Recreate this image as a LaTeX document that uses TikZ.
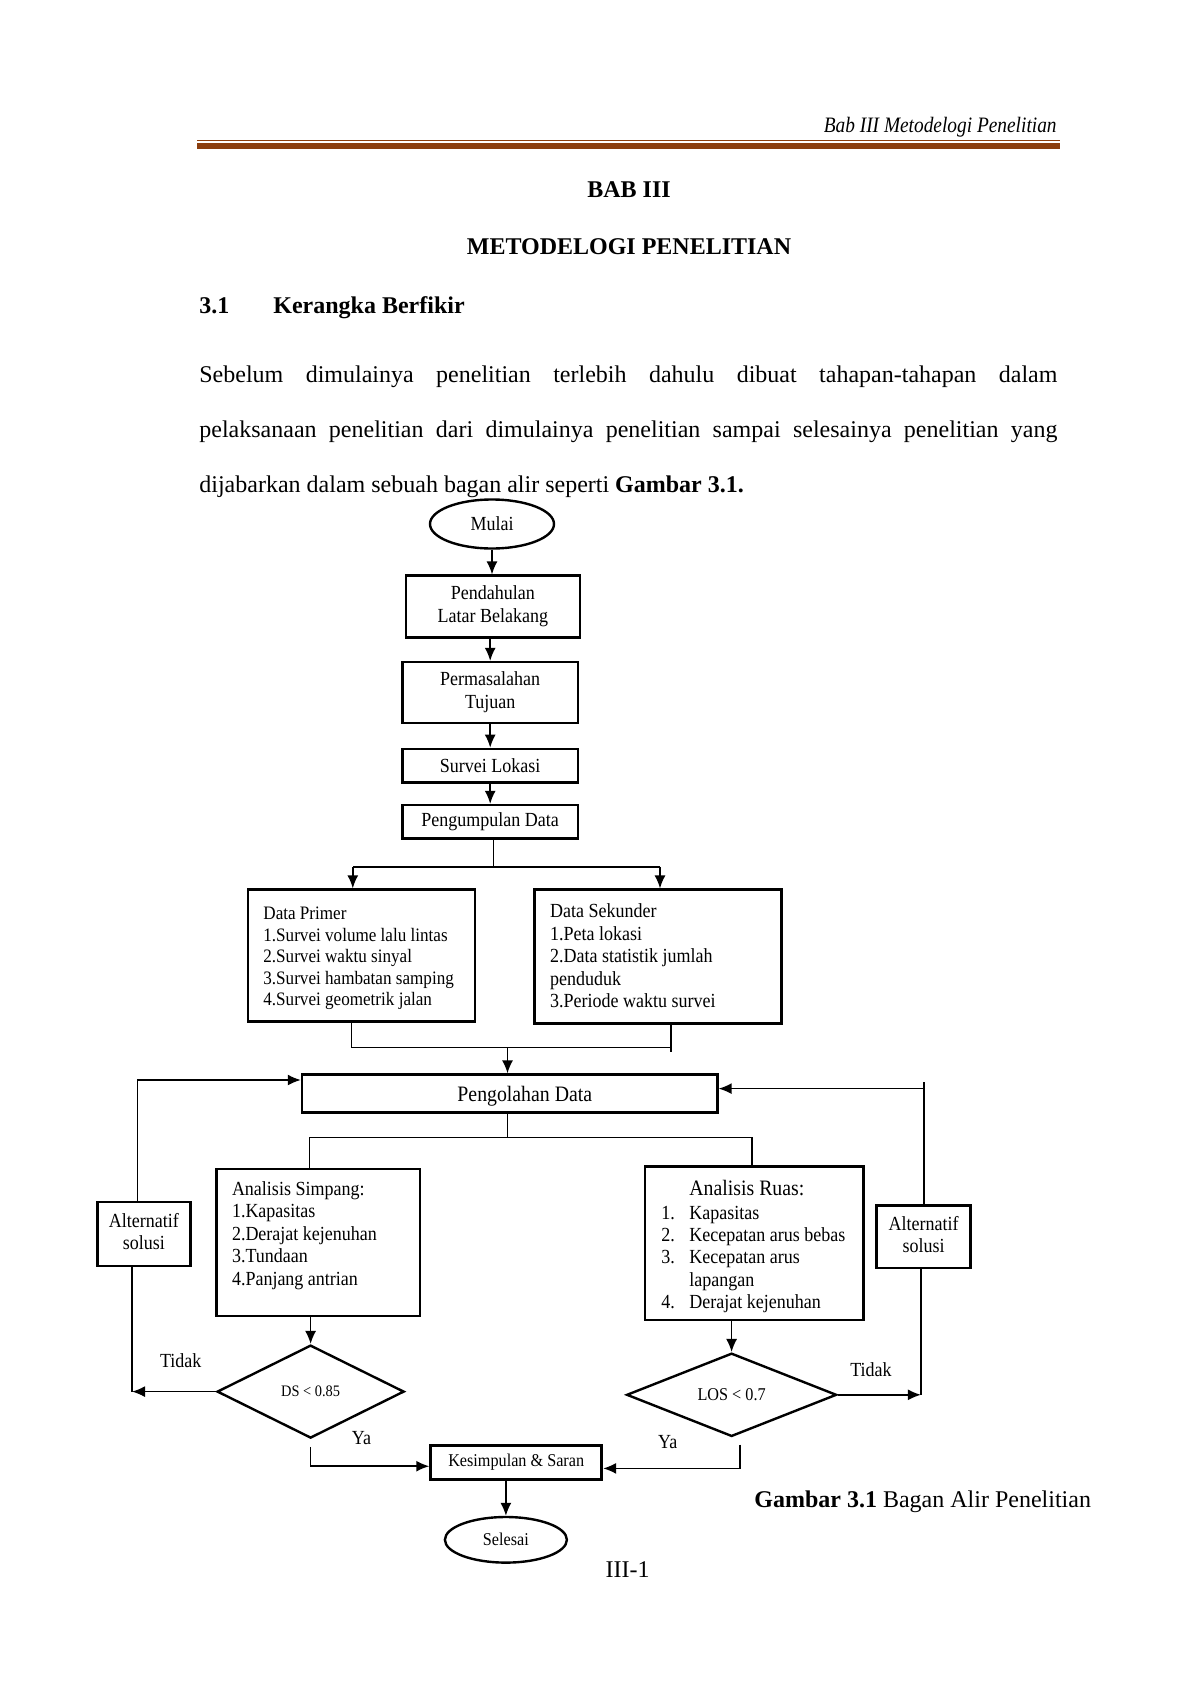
\documentclass[tikz,border=0pt]{standalone}
\usepackage{fontspec}
\setmainfont{Liberation Serif}
\newfontfamily\fc{Liberation Serif}[FakeStretch=0.9]
\newfontfamily\fhead{Liberation Serif}[FakeStretch=0.88]
\usetikzlibrary{shapes.geometric,arrows.meta}
\definecolor{rulebrown}{RGB}{139,62,14}
\newcommand{\twoline}[2]{\raisebox{-1.2pt}{\begin{tabular}{@{}c@{}}#1\\#2\end{tabular}}}
\begin{document}
\begin{tikzpicture}[x=0.5pt,y=-0.5pt,
 box/.style={draw, line width=1.2pt, inner sep=0pt, font=\fc\fontsize{10}{11.35}\selectfont, align=center},
 term/.style={draw, ellipse, line width=1.2pt, inner sep=0pt, font=\fc\fontsize{10}{12}\selectfont},
 dec/.style={draw, diamond, line width=1.2pt, inner sep=0pt, font=\fc\fontsize{8}{10}\selectfont},
 conn/.style={line width=0.75pt},
 arr/.style={conn, -{Latex[length=6.5pt,width=5.5pt]}},
 txt/.style={inner sep=0pt, align=left, font=\fc\fontsize{10}{11.25}\selectfont},
 lbl/.style={inner sep=0pt, font=\fc\fontsize{10}{12}\selectfont},
 body/.style={inner sep=0pt, anchor=base west, font=\fontsize{12}{14}\selectfont}
]
\useasboundingbox (0,0) rectangle (1200,1697);
% header
\node[inner sep=0pt, anchor=base east, font=\fhead\itshape\fontsize{11}{13}\selectfont] (head) at (1057,132) {Bab III Metodelogi Penelitian};
\fill[rulebrown] (197,139.8) rectangle (1060,141.4);
\fill[rulebrown] (197,143.2) rectangle (1060,148.6);
% titles
\node[inner sep=0pt, anchor=base, font=\bfseries\fontsize{12}{14}\selectfont] (bab) at (629,197) {BAB III};
\node[inner sep=0pt, anchor=base, font=\bfseries\fontsize{12}{14}\selectfont] (metod) at (629,254) {METODELOGI PENELITIAN};
\node[body, font=\bfseries\fontsize{12}{14}\selectfont] (sec) at (199,313) {3.1};
\node[body, font=\bfseries\fontsize{12}{14}\selectfont] (sectitle) at (273,313) {Kerangka Berfikir};
\node[body] (p1) at (199,382) {\makebox[429pt][s]{Sebelum dimulainya penelitian terlebih dahulu dibuat tahapan-tahapan dalam}};
\node[body] (p2) at (199,437) {\makebox[429pt][s]{pelaksanaan penelitian dari dimulainya penelitian sampai selesainya penelitian yang}};
\node[body] (p3) at (199,492) {dijabarkan dalam sebuah bagan alir seperti \textbf{Gambar 3.1.}};
% flowchart top
\node[term, minimum width=62pt, minimum height=24.5pt] (mulai) at (492,524) {\raisebox{-1pt}{Mulai}};
\node[box, minimum width=87.1pt, minimum height=30.9pt] (pend) at (492.9,606.5) {\twoline{Pendahulan}{Latar Belakang}};
\node[box, minimum width=87.7pt, minimum height=30.4pt] (perm) at (490.2,692.4) {\twoline{Permasalahan}{Tujuan}};
\node[box, minimum width=87.7pt, minimum height=16.8pt] (surv) at (490.2,765.6) {\raisebox{-1pt}{Survei Lokasi}};
\node[box, minimum width=87.7pt, minimum height=16.8pt] (peng) at (490.2,821.8) {\raisebox{-1.8pt}{Pengumpulan Data}};
\draw[arr] (mulai.south) -- (mulai.south |- pend.north);
\draw[arr] (perm.north |- pend.south) -- (perm.north);
\draw[arr] (perm.south) -- (surv.north);
\draw[arr] (surv.south) -- (peng.north);
% data boxes
\node[box, minimum width=113.6pt, minimum height=66pt] (prim) at (361.4,955.5) {};
\node[txt, anchor=north west, font=\fc\fontsize{9.5}{10.75}\selectfont] (primtxt) at (263,907) {Data Primer\\1.Survei volume lalu lintas\\2.Survei waktu sinyal\\3.Survei hambatan samping\\4.Survei geometrik jalan};
\node[box, minimum width=123.35pt, minimum height=67pt] (sek) at (658,956.6) {};
\node[txt, anchor=north west] (sektxt) at (549.7,903.5) {Data Sekunder\\1.Peta lokasi\\2.Data statistik jumlah\\penduduk\\3.Periode waktu survei};
\coordinate (s1) at (493.4,866.8);
\coordinate (s1l) at (352.8,866.8);
\coordinate (s1r) at (660,866.8);
\draw[conn] (peng.south -| s1) -- (s1);
\draw[conn] (s1l) -- (s1r);
\draw[arr] (s1l) -- (s1l |- prim.north);
\draw[arr] (s1r) -- (s1r |- sek.north);
% merge
\node[box, minimum width=207.75pt, minimum height=18.95pt] (olah) at (509.7,1093.5) {};
\node[lbl, font=\fc\fontsize{11}{13}\selectfont] (olahtxt) at (524.8,1096.5) {Pengolahan Data};
\coordinate (m1) at (351.7,1047.5);
\coordinate (m2) at (670.9,1047.5);
\coordinate (m2b) at (670.9,1051.8);
\coordinate (m3) at (507.5,1047.5);
\draw[conn] (m1 |- prim.south) -- (m1) -- (m2);
\draw[conn] (m2 |- sek.south) -- (m2b);
\draw[arr] (m3) -- (m3 |- olah.north);
% analysis
\node[box, minimum width=101.75pt, minimum height=73.55pt] (simp) at (318.2,1242.3) {};
\node[txt, anchor=north west] (simptxt) at (231.6,1181) {Analisis Simpang:\\1.Kapasitas\\2.Derajat kejenuhan\\3.Tundaan\\4.Panjang antrian};
\node[box, minimum width=109.25pt, minimum height=76.85pt] (ruas) at (754.3,1243.4) {};
\node[lbl, anchor=base west, font=\fc\fontsize{11}{13}\selectfont] (ruastitle) at (689,1195) {Analisis Ruas:};
\node[txt, anchor=north west, font=\fc\fontsize{10}{11.2}\selectfont] (ruastxt) at (661,1205.5) {\makebox[14pt][l]{1.}Kapasitas\\\makebox[14pt][l]{2.}Kecepatan arus bebas\\\makebox[14pt][l]{3.}Kecepatan arus\\\hspace*{14pt}lapangan\\\makebox[14pt][l]{4.}Derajat kejenuhan};
\coordinate (s2) at (507.5,1137.3);
\coordinate (s2l) at (309.5,1137.3);
\coordinate (s2r) at (752,1137.3);
\draw[conn] (olah.south -| s2) -- (s2);
\draw[conn] (s2l |- simp.north) -- (s2l) -- (s2r) -- (s2r |- ruas.north);
% alternatives
\node[box, minimum width=46.5pt, minimum height=32pt] (alt1) at (143.9,1234) {\twoline{Alternatif}{solusi}};
\node[box, minimum width=47pt, minimum height=31.35pt] (alt2) at (923.6,1236.9) {\twoline{Alternatif}{solusi}};
\coordinate (lc) at (137.4,1080);
\draw[arr] (lc |- alt1.north) -- (lc) -- (lc -| olah.west);
\coordinate (rc) at (924,1082);
\coordinate (rh) at (924,1088.6);
\draw[conn] (rc |- alt2.north) -- (rc);
\draw[arr] (rh) -- (rh -| olah.east);
% decisions
\node[dec, minimum width=93.5pt, minimum height=46.5pt] (ds) at (310.6,1391.6) {DS < 0.85};
\node[dec, minimum width=105pt, minimum height=41.65pt, font=\fc\fontsize{9}{11}\selectfont] (los) at (731.6,1394.8) {LOS < 0.7};
\draw[arr] (ds.north |- simp.south) -- (ds.north);
\draw[arr] (los.north |- ruas.south) -- (los.north);
\coordinate (lb) at (132,1391.6);
\draw[conn] (lb |- alt1.south) -- (lb);
\draw[arr] (ds.west) -- (lb);
\coordinate (rb) at (920.9,1394.8);
\draw[conn] (rb |- alt2.south) -- (rb);
\draw[arr] (los.east) -- (rb);
% end
\node[box, line width=1.5pt, minimum width=85.45pt, minimum height=16.75pt, font=\fc\fontsize{9}{11}\selectfont] (kes) at (516.2,1462.5) {\raisebox{-1pt}{Kesimpulan \& Saran}};
\coordinate (dy1) at (310.6,1446.8);
\coordinate (dy2) at (310.6,1466.2);
\draw[arr] (dy1) -- (dy2) -- (dy2 -| kes.west);
\coordinate (ly1) at (740,1444.6);
\coordinate (ly2) at (740,1468.4);
\draw[arr] (ly1) -- (ly2) -- (ly2 -| kes.east);
\node[term, minimum width=61pt, minimum height=22.8pt, font=\fc\fontsize{9}{11}\selectfont] (sel) at (505.9,1539.8) {\raisebox{-1pt}{Selesai}};
\draw[arr] (sel.north |- kes.south) -- (sel.north);
% labels
\node[lbl] (t1) at (180.7,1361) {Tidak};
\node[lbl] (y1) at (361.4,1438) {Ya};
\node[lbl] (t2) at (871,1370) {Tidak};
\node[lbl] (y2) at (667.7,1442) {Ya};
% caption and page number
\node[body] (cap) at (754,1507) {\textbf{Gambar 3.1} Bagan Alir Penelitian};
\node[inner sep=0pt, anchor=base, font=\fontsize{12}{14}\selectfont] (pg) at (627.6,1577) {III-1};
\end{tikzpicture}
\end{document}
